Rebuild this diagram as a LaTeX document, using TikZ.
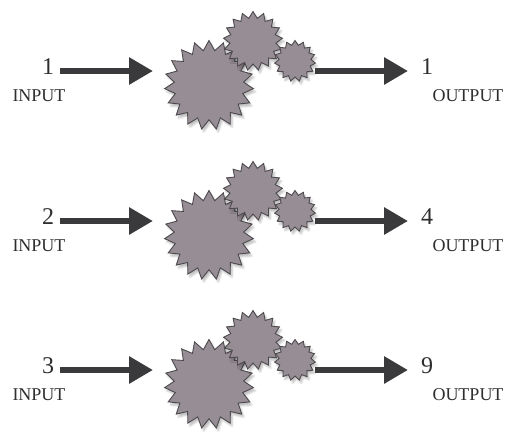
\documentclass[tikz,border=0pt]{standalone}
\usepackage{fontspec}
\setmainfont{Liberation Serif}
\usetikzlibrary{arrows.meta, shapes.geometric, shadows.blur}

\definecolor{gearfill}{HTML}{978D95}
\definecolor{gearline}{HTML}{4D4A4D}
\definecolor{arrowcol}{HTML}{3A3A3C}
\definecolor{textcol}{HTML}{2E2E2E}

\begin{document}
\begin{tikzpicture}[x=1pt,y=-1pt,
 gear node/.style={star,draw=gearline,fill=gearfill,line width=0.9pt,inner sep=0pt,
   star point ratio=1.28,blur shadow={shadow xshift=2pt,shadow yshift=-3pt,shadow opacity=25}},
 flow/.style={-{Triangle[length=24pt,width=26pt]},draw=arrowcol,line width=6pt},
 digit/.style={font=\fontsize{24}{28}\selectfont,text=textcol,inner sep=0pt},
 caption/.style={font=\fontsize{18}{22}\selectfont,text=textcol,inner sep=0pt}]
\useasboundingbox (0,0) rectangle (509,432);
\foreach \r/\y/\a/\b in {1/71/1/1, 2/221/2/4, 3/370/3/9}{
  % numbers and labels
  \node[digit](in\r) at (48,\y-4){\a};
  \node[caption](inlab\r) at (39,\y+25){INPUT};
  \node[digit](out\r) at (427,\y-4){\b};
  \node[caption](outlab\r) at (468,\y+25){OUTPUT};
  \coordinate (a\r) at (60,\y);
  \coordinate (b\r) at (153,\y);
  \coordinate (c\r) at (315,\y);
  \coordinate (d\r) at (408,\y);
  \draw[flow] (a\r) -- (b\r);
  \draw[flow] (c\r) -- (d\r);
  % gears
  \node[gear node,star points=19,minimum size=89pt](big\r) at (209,\y+14){};
  \node[gear node,star points=17,minimum size=59pt](mid\r) at (253,\y-30){};
  \node[gear node,star points=15,minimum size=41pt](small\r) at (295,\y-10){};
}
\end{tikzpicture}
\end{document}
